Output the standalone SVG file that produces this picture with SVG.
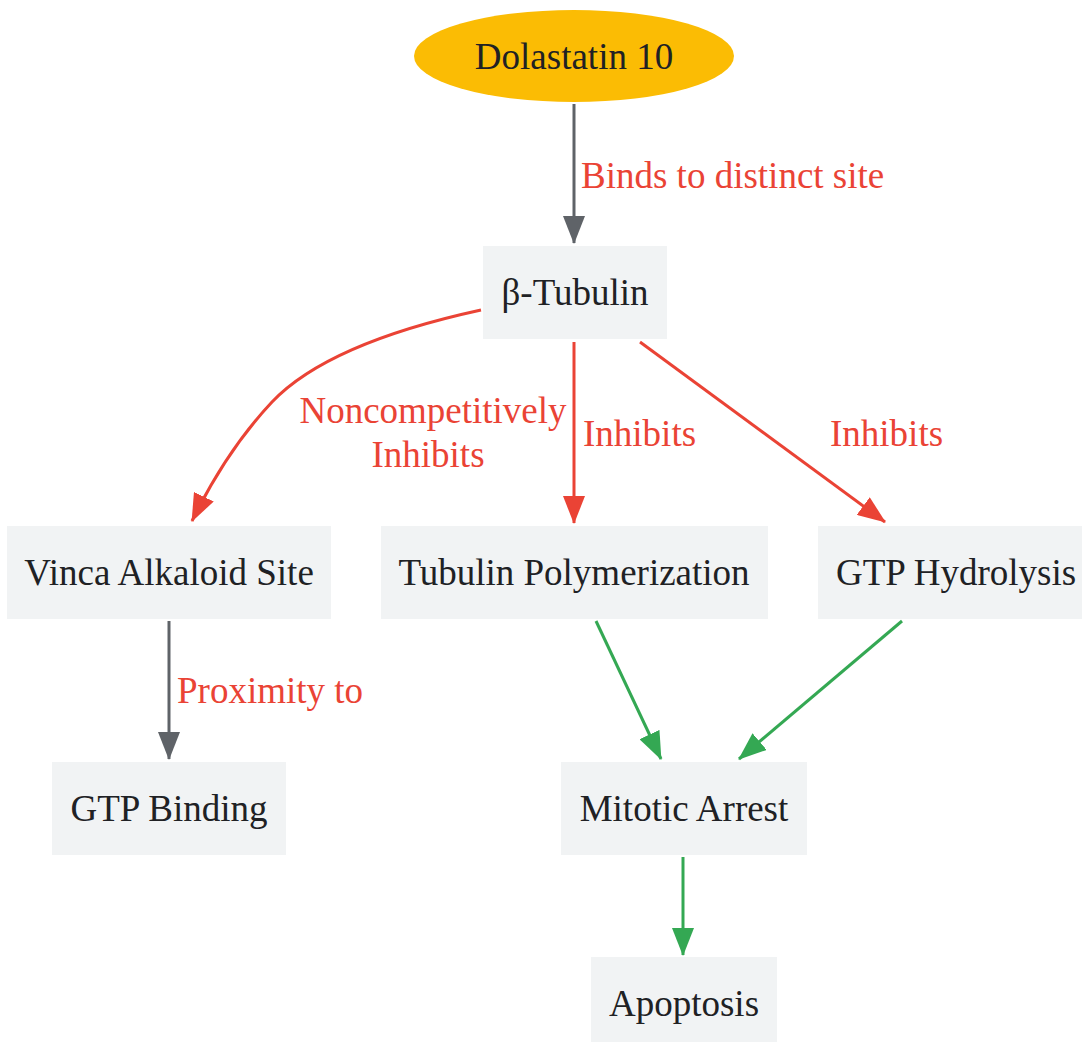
<svg xmlns="http://www.w3.org/2000/svg" width="1082" height="1042" viewBox="0 0 1082 1042">
<style>
.box{fill:#f1f3f4}
.nt{font-family:"Liberation Serif","Times New Roman",serif;font-size:37px;fill:#202124;text-anchor:middle}
.lt{font-family:"Liberation Serif","Times New Roman",serif;font-size:37px;fill:#ea4335}
.e{fill:none;stroke-width:3}
.gray{stroke:#5f6368}
.red{stroke:#ea4335}
.green{stroke:#34a853}
</style>
<defs>
<marker id="ag" markerUnits="userSpaceOnUse" markerWidth="28" markerHeight="22" refX="27" refY="11" orient="auto"><path d="M0,0 L28,11 L0,22 z" fill="#5f6368"/></marker>
<marker id="ar" markerUnits="userSpaceOnUse" markerWidth="28" markerHeight="22" refX="27" refY="11" orient="auto"><path d="M0,0 L28,11 L0,22 z" fill="#ea4335"/></marker>
<marker id="agr" markerUnits="userSpaceOnUse" markerWidth="28" markerHeight="22" refX="27" refY="11" orient="auto"><path d="M0,0 L28,11 L0,22 z" fill="#34a853"/></marker>
</defs>
<rect width="1082" height="1042" fill="#ffffff"/>
<g id="connectors">
<path class="e gray" d="M574,104 L574,243" marker-end="url(#ag)"/>
<path class="e red" d="M481,310 C380,332 310,362 272,402 C240,436 214,476 192,521" marker-end="url(#ar)"/>
<path class="e red" d="M574,342 L574,523" marker-end="url(#ar)"/>
<path class="e red" d="M640,342 L885,522" marker-end="url(#ar)"/>
<path class="e gray" d="M169,621 L169,759" marker-end="url(#ag)"/>
<path class="e green" d="M596,621 L661,759" marker-end="url(#agr)"/>
<path class="e green" d="M902,621 L739,759" marker-end="url(#agr)"/>
<path class="e green" d="M683,857 L683,955" marker-end="url(#agr)"/>
<text class="lt" x="581" y="188">Binds to distinct site</text>
<text class="lt" x="433" y="423" text-anchor="middle">Noncompetitively</text>
<text class="lt" x="428" y="467" text-anchor="middle">Inhibits</text>
<text class="lt" x="583" y="446">Inhibits</text>
<text class="lt" x="830" y="446">Inhibits</text>
<text class="lt" x="177" y="703">Proximity to</text>
</g>
<g id="dolastatin"><ellipse cx="574" cy="56" rx="160" ry="46" fill="#fbbc04"/><text class="nt" x="574" y="69">Dolastatin 10</text></g>
<g id="tubulin"><rect class="box" x="483" y="246" width="184" height="93"/><text class="nt" x="575" y="305">β-Tubulin</text></g>
<g id="vinca"><rect class="box" x="7" y="526" width="324" height="93"/><text class="nt" x="169" y="585">Vinca Alkaloid Site</text></g>
<g id="polymerization"><rect class="box" x="381" y="526" width="387" height="93"/><text class="nt" x="574" y="585">Tubulin Polymerization</text></g>
<g id="hydrolysis"><rect class="box" x="818" y="526" width="264" height="93"/><text class="nt" x="956" y="585">GTP Hydrolysis</text></g>
<g id="binding"><rect class="box" x="52" y="762" width="234" height="93"/><text class="nt" x="169" y="821">GTP Binding</text></g>
<g id="mitotic"><rect class="box" x="561" y="762" width="246" height="93"/><text class="nt" x="684" y="821">Mitotic Arrest</text></g>
<g id="apoptosis"><rect class="box" x="591" y="957" width="186" height="85"/><text class="nt" x="684" y="1016">Apoptosis</text></g>
</svg>
